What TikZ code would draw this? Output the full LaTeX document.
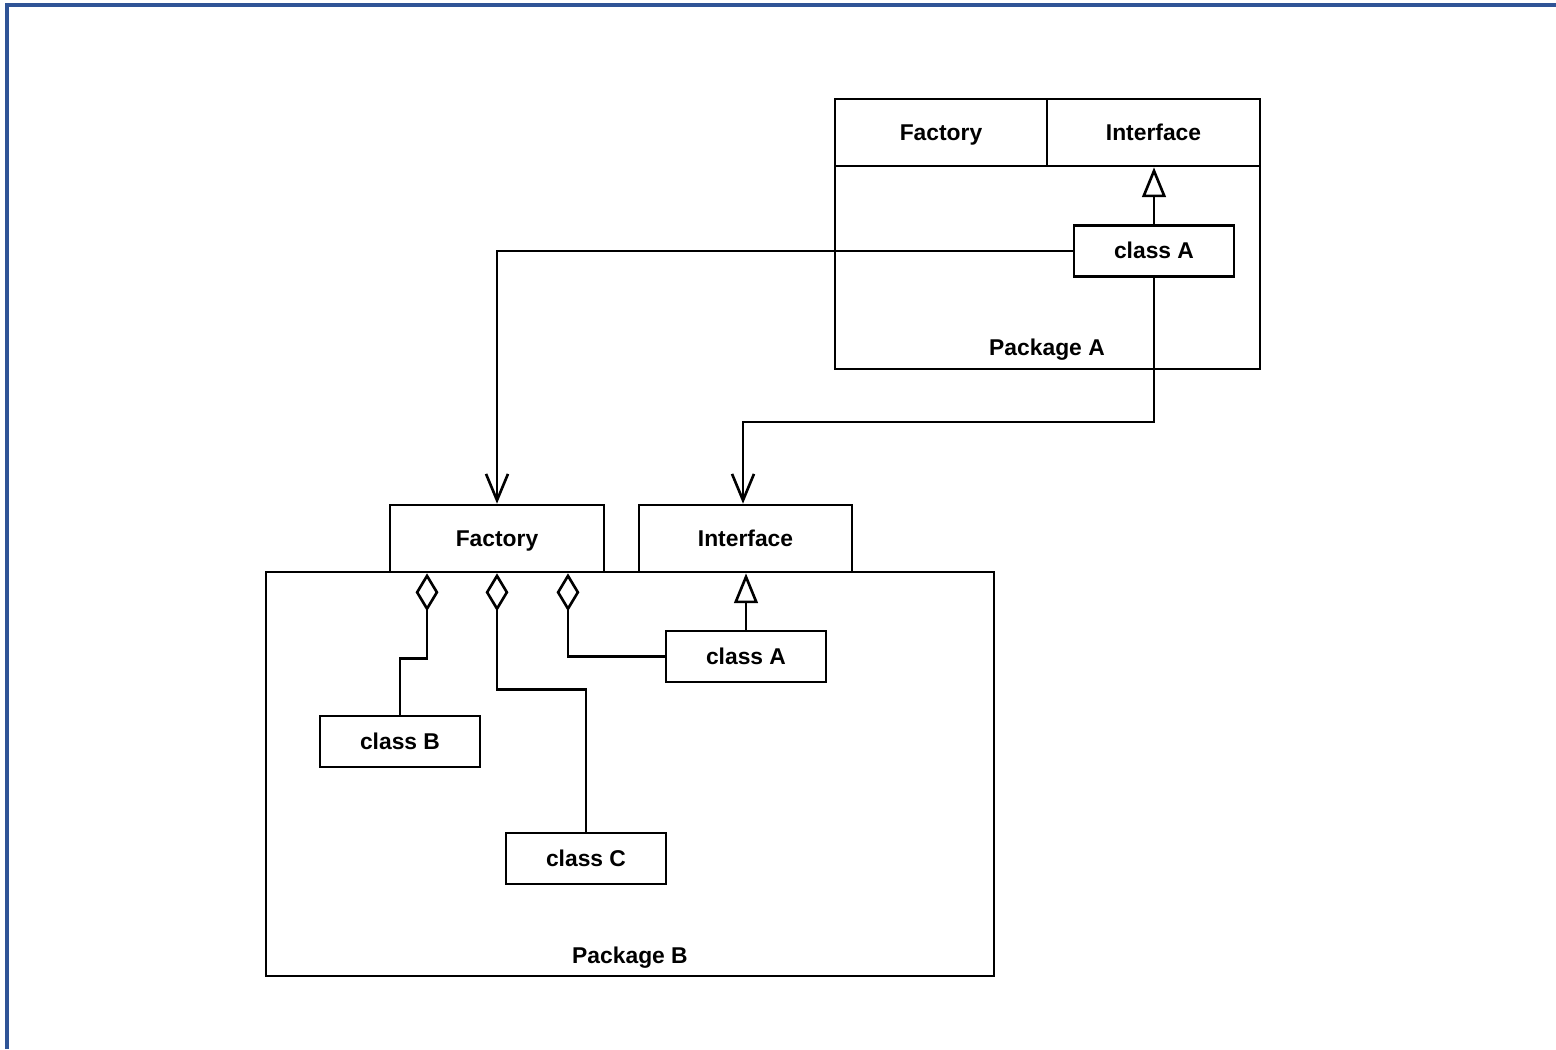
\documentclass[tikz,border=0pt]{standalone}
\usepackage{fontspec}
\setmainfont{Liberation Sans}
\usetikzlibrary{arrows.meta}
\definecolor{framecol}{RGB}{47,84,150}
\begin{document}
\begin{tikzpicture}[
  x=0.02cm, y=-0.02cm,
  line width=1.5pt,
  txt/.style={font=\fontsize{13}{15}\selectfont\bfseries, text height=10.5pt, text depth=1.7pt},
  pkg/.style={draw, minimum width=#1, minimum height=8.08cm, inner sep=0pt},
  tab/.style={draw, txt, minimum width=4.26cm, minimum height=1.34cm, inner sep=0pt},
  cls/.style={draw, txt, minimum width=3.2cm, minimum height=1.02cm, inner sep=0pt},
  inherit/.style={-{Triangle[open, length=17pt, width=13.5pt]}},
  uses/.style={-{Straight Barb[length=15pt, width=12.5pt]}},
  agg/.style={{Diamond[open, length=21.6pt, width=13pt]}-}
]
\useasboundingbox (0,0) rectangle (1556,1049);
\draw[framecol, line width=2.2pt] (7,1049) -- (7,5) -- (1556,5);

\node[pkg=8.5cm, minimum height=5.4cm] (pkgA) at (1047.5,234) {};
\node[tab, minimum width=4.24cm] (facA) at (941,132.5) {Factory};
\node[tab] (intA) at (1153.5,132.5) {Interface};
\node[txt] (labA) at (1047,348) {Package A};
\node[cls] (clsAa) at (1154,251) {class A};

\node[pkg=14.56cm] (pkgB) at (630,774) {};
\node[tab, minimum width=4.28cm] (facB) at (497,538.5) {Factory};
\node[tab] (intB) at (745.5,538.5) {Interface};
\node[txt] (labB) at (630,956) {Package B};
\node[cls] (clsAb) at (746,656.5) {class A};
\node[cls] (clsB) at (400,741.5) {class B};
\node[cls] (clsC) at (586,858.5) {class C};

\draw[inherit] (clsAa.north) -- (intA.south -| clsAa.north);
\draw[inherit] (clsAb.north) -- (intB.south -| clsAb.north);
\draw[uses] (clsAa.west) -| (facB.north);
\draw[uses] (clsAa.south) -- ++(0,144) -| ([xshift=-0.05cm]intB.north);

\draw[agg] ([xshift=-1.4cm]facB.south) -- ++(0,85) -| (clsB.north);
\draw[agg] (facB.south) -- ++(0,116) -| (clsC.north);
\draw[agg] ([xshift=1.42cm]facB.south) |- (clsAb.west);
\end{tikzpicture}
\end{document}
